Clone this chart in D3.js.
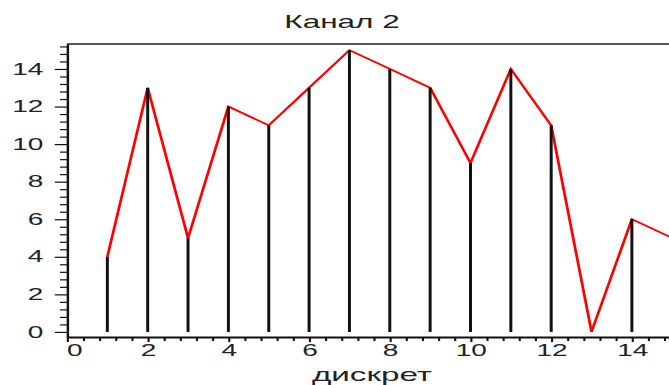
<!DOCTYPE html>
<html>
<head>
<meta charset="utf-8">
<script src="https://cdn.jsdelivr.net/npm/d3@7"></script>
<style>
  html, body { margin: 0; padding: 0; background: #fff; }
  svg { display: block; }
  text { font-family: "Liberation Sans", Arial, sans-serif; fill: #222; }
</style>
</head>
<body>
<svg id="chart" width="669" height="385"></svg>
<script>
// Samples of channel 2 (index -> value)
const samples = [1, 2, 3, 4, 5, 6, 7, 8, 9, 10, 11, 12, 13, 14, 15];
const values  = [4, 13, 5, 12, 11, 13, 15, 14, 13, 9, 14, 11, 0, 6, 5];

// Axis limits and tick labels
const xLim = [0, 14.92];
const yLim = [-0.27, 15.33];
const xTicks = [0, 2, 4, 6, 8, 10, 12, 14];
const yTicks = [0, 2, 4, 6, 8, 10, 12, 14];
const minorStep = 0.4;

const title = "Канал 2";
const xTitle = "дискрет";

const W = 669, H = 385;
const S = 1.75;            // horizontal stretch of the whole drawing
const iw = W / S;

const svg = d3.select("#chart");
const root = svg.append("g").attr("transform", `scale(${S},1)`);

const x = d3.scaleLinear().domain(xLim).range([67 / S, iw]);
const y = d3.scaleLinear().domain(yLim).range([337, 44]);

// clip region for the data marks
root.append("clipPath").attr("id", "plotClip")
  .append("rect")
  .attr("x", x(xLim[0])).attr("y", y(yLim[1]) - 2)
  .attr("width", x(xLim[1]) - x(xLim[0])).attr("height", y(yLim[0]) - y(yLim[1]) + 2);

// top frame
root.append("line")
  .attr("x1", x(xLim[0])).attr("x2", x(xLim[1]))
  .attr("y1", y(yLim[1])).attr("y2", y(yLim[1]))
  .attr("stroke", "#555").attr("stroke-width", 2);

const isMajor = v => Math.abs(v / 2 - Math.round(v / 2)) < 1e-6;
const xMinor = d3.range(0, xLim[1], minorStep).map(v => +v.toFixed(2)).filter(v => !isMajor(v));
const yMinor = d3.range(0, yLim[1], minorStep).map(v => +v.toFixed(2)).filter(v => !isMajor(v));

// x axis: minor ticks, then major ticks with labels
root.append("g")
  .attr("transform", `translate(0,${y(yLim[0])})`)
  .call(d3.axisBottom(x).tickValues(xMinor).tickSize(4).tickSizeOuter(0).tickFormat(""))
  .call(g => g.select(".domain").remove())
  .call(g => g.selectAll(".tick line").attr("stroke", "#111").attr("stroke-width", 1.2));

const xAxisG = root.append("g")
  .attr("transform", `translate(0,${y(yLim[0])})`)
  .call(d3.axisBottom(x).tickValues(xTicks).tickSize(5).tickSizeOuter(0).tickPadding(3).tickFormat(d3.format("d")));
xAxisG.select(".domain").attr("stroke", "#111").attr("stroke-width", 2);
xAxisG.selectAll(".tick line").attr("stroke", "#111").attr("stroke-width", 1.2);
xAxisG.selectAll(".tick text")
  .attr("font-size", 16).attr("fill", "#222")
  .attr("text-anchor", d => d === 0 ? "start" : "middle")
  .attr("x", d => d === 0 ? -0.5 : 0);

// y axis: minor ticks, then major ticks with labels
root.append("g")
  .attr("transform", `translate(${x(0)},0)`)
  .call(d3.axisLeft(y).tickValues(yMinor).tickSize(4).tickSizeOuter(0).tickFormat(""))
  .call(g => g.select(".domain").remove())
  .call(g => g.selectAll(".tick line").attr("stroke", "#111").attr("stroke-width", 1.2));

const yAxisG = root.append("g")
  .attr("transform", `translate(${x(0)},0)`)
  .call(d3.axisLeft(y).tickValues(yTicks).tickSize(7).tickSizeOuter(0).tickPadding(6.5).tickFormat(d3.format("d")));
yAxisG.select(".domain").attr("stroke", "#111").attr("stroke-width", 1.4);
yAxisG.selectAll(".tick line").attr("stroke", "#111").attr("stroke-width", 1.2);
yAxisG.selectAll(".tick text").attr("font-size", 16).attr("fill", "#222");

// data marks
const plot = root.append("g").attr("clip-path", "url(#plotClip)");
const pts = samples.map((s, i) => [s, values[i]]);

plot.append("path")
  .datum(pts)
  .attr("fill", "none")
  .attr("stroke", "#ff0000")
  .attr("stroke-width", 1.6)
  .attr("d", d3.line().x(d => x(d[0])).y(d => y(d[1])));

plot.selectAll("line.stem")
  .data(pts)
  .join("line")
  .attr("class", "stem")
  .attr("x1", d => x(d[0])).attr("x2", d => x(d[0]))
  .attr("y1", y(0)).attr("y2", d => y(d[1]))
  .attr("stroke", "#111")
  .attr("stroke-width", 1.7);

// titles
root.append("text")
  .attr("x", 342 / S).attr("y", 28)
  .attr("text-anchor", "middle")
  .attr("font-size", 18)
  .text(title);

root.append("text")
  .attr("x", 372 / S).attr("y", 381)
  .attr("text-anchor", "middle")
  .attr("font-size", 19)
  .text(xTitle);
</script>
</body>
</html>
